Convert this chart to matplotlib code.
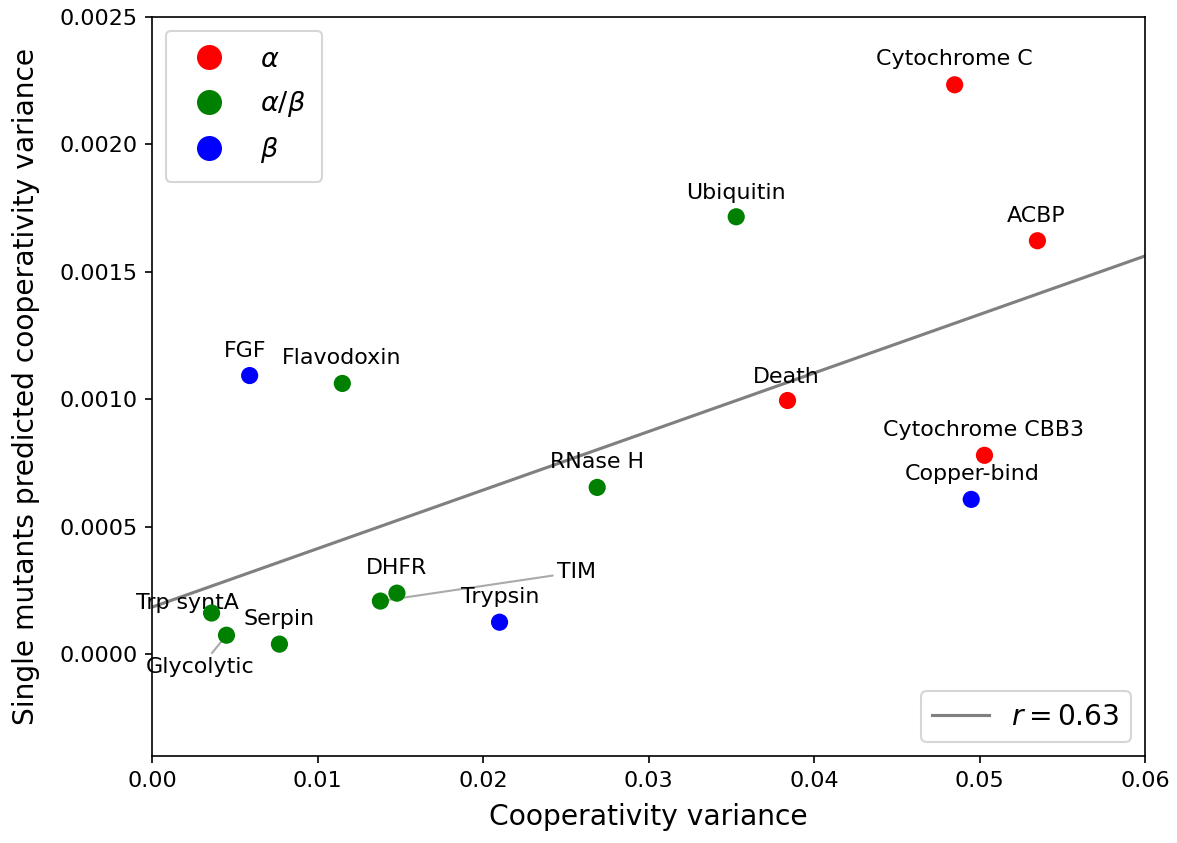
import matplotlib
matplotlib.use("Agg")
import matplotlib.pyplot as plt
from matplotlib.lines import Line2D
import numpy as np

# data
proteins = ["Cytochrome C", "ACBP", "Ubiquitin", "FGF", "Flavodoxin", "Death",
            "Cytochrome CBB3", "Copper-bind", "RNase H", "DHFR", "TIM",
            "Trypsin", "Trp syntA", "Serpin", "Glycolytic"]
coop_var = [0.0485, 0.0535, 0.0353, 0.0059, 0.0115, 0.0384,
            0.0503, 0.0495, 0.0269, 0.0148, 0.0138,
            0.0210, 0.0036, 0.0077, 0.0045]
single_var = [0.002234, 0.001622, 0.001716, 0.001093, 0.001062, 0.000995,
              0.000780, 0.000607, 0.000654, 0.000239, 0.000208,
              0.000125, 0.000161, 0.000039, 0.000074]
fold_class = ["a", "a", "ab", "b", "ab", "a",
              "a", "b", "ab", "ab", "ab",
              "b", "ab", "ab", "ab"]
r_value = 0.63

class_colors = {"a": "red", "ab": "green", "b": "blue"}
class_labels = {"a": r"$\alpha$", "ab": r"$\alpha/\beta$", "b": r"$\beta$"}

# label offsets in pixels (dx, dy) relative to each point
label_offsets = {"Cytochrome C": (0, 26), "ACBP": (-1, 25), "Ubiquitin": (0, 24),
                 "FGF": (-5, 25), "Flavodoxin": (-1, 25), "Death": (-1, 24),
                 "Cytochrome CBB3": (-1, 25), "Copper-bind": (1, 25),
                 "RNase H": (0, 25), "DHFR": (0, 25), "TIM": (196, 29),
                 "Trypsin": (1, 25), "Trp syntA": (-24, 10), "Serpin": (0, 25),
                 "Glycolytic": (-26, -32)}
with_line = {"TIM", "Glycolytic"}

dpi = 150
fig = plt.figure(figsize=(1177 / dpi, 843 / dpi), dpi=dpi)
ax = fig.add_axes([152 / 1177, 1 - 756 / 843, (1145 - 152) / 1177, (756 - 17) / 843])

x = np.array(coop_var)
y = np.array(single_var)

# regression line
slope, intercept = np.polyfit(x, y, 1)
xl = np.array([0, 0.06])
ax.plot(xl, intercept + slope * xl, color="gray", lw=1.5, zorder=1)

cols = [class_colors[c] for c in fold_class]
ax.scatter(x, y, c=cols, s=68, zorder=3, edgecolors="none")

px2pt = 72 / dpi
for name, xi, yi in zip(proteins, coop_var, single_var):
    dx, dy = label_offsets[name]
    kw = {}
    if name in with_line:
        kw["arrowprops"] = dict(arrowstyle="-", color="#aaaaaa", lw=1,
                                shrinkA=0, shrinkB=0)
    ax.annotate(name, (xi, yi), xytext=(dx * px2pt, dy * px2pt),
                textcoords="offset points", ha="center", va="center",
                fontsize=10.6, zorder=2, **kw)

ax.set_xlim(0, 0.06)
ax.set_ylim(-0.0004, 0.0025)
ax.set_xticks([0, 0.01, 0.02, 0.03, 0.04, 0.05, 0.06])
ax.set_xticklabels(["0.00", "0.01", "0.02", "0.03", "0.04", "0.05", "0.06"])
ax.set_yticks([0, 0.0005, 0.001, 0.0015, 0.002, 0.0025])
ax.set_yticklabels(["0.0000", "0.0005", "0.0010", "0.0015", "0.0020", "0.0025"])
ax.tick_params(labelsize=10.7)
ax.set_xlabel("Cooperativity variance", fontsize=13.5, labelpad=6)
ax.set_ylabel("Single mutants predicted cooperativity variance", fontsize=13.5,
              labelpad=9)

handles = [Line2D([], [], marker="o", ls="", color=class_colors[k],
                  markersize=11, label=class_labels[k]) for k in ["a", "ab", "b"]]
leg1 = ax.legend(handles=handles, loc="upper left", fontsize=13,
                 borderpad=0.6, labelspacing=0.6, handletextpad=0.9)
ax.add_artist(leg1)
line_h = Line2D([], [], color="gray", lw=1.5, label=r"$r = %.2f$" % r_value)
ax.legend(handles=[line_h], loc="lower right", fontsize=13.5)

fig.savefig("out.png", dpi=dpi)
